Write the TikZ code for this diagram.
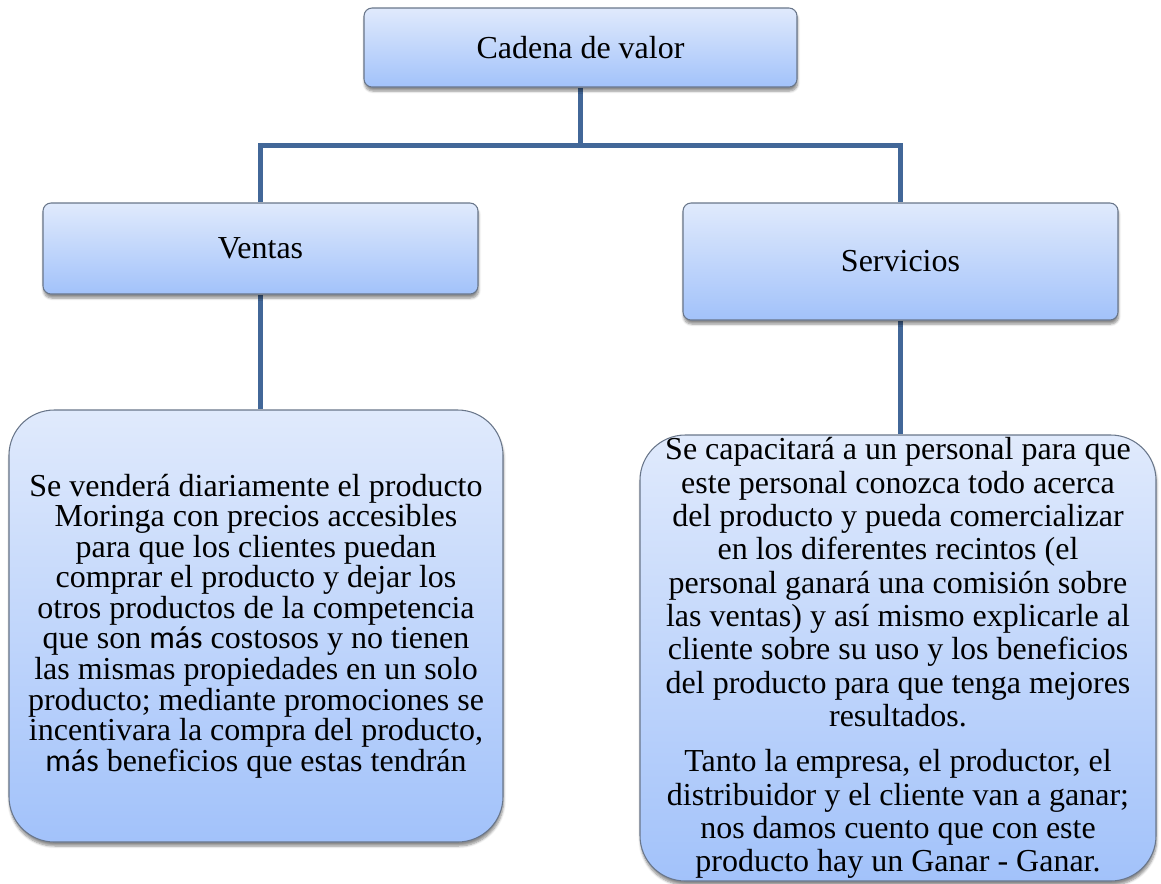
\documentclass[tikz,border=0pt]{standalone}
\usepackage{fontspec}
\setmainfont{Liberation Serif}
\newfontfamily\carlito{Carlito}
\usetikzlibrary{shadows.blur,backgrounds}
\definecolor{linkblue}{RGB}{66,103,152}
\definecolor{boxtop}{RGB}{224,234,252}
\definecolor{boxbot}{RGB}{162,194,250}
\definecolor{boxedge}{RGB}{105,118,138}
\tikzset{
  box/.style={draw=boxedge, line width=0.8pt, top color=boxtop, bottom color=boxbot,
    blur shadow={shadow xshift=0.5pt, shadow yshift=-3pt, shadow opacity=45, shadow blur steps=6},
    inner sep=0pt, align=center},
  headbox/.style={box, rounded corners=6pt, font=\fontsize{24}{26}\selectfont},
  textbox/.style={box, rounded corners=34pt},
  link/.style={draw=linkblue, line width=3.75pt}
}
\begin{document}
\begin{tikzpicture}[x=0.75pt,y=-0.75pt]
\useasboundingbox (0,0) rectangle (1161,883);
\node[headbox, minimum width={433*0.75pt}, minimum height={79*0.75pt}] (top) at (580.5,47.5) {Cadena de valor};
\node[headbox, minimum width={435*0.75pt}, minimum height={91*0.75pt}] (ventas) at (260.5,248.5) {Ventas};
\node[headbox, minimum width={435*0.75pt}, minimum height={117*0.75pt}] (serv) at (900.5,261.5) {Servicios};
\node[textbox, minimum width={494*0.75pt}, minimum height={432*0.75pt}, font=\fontsize{24}{22.9}\selectfont] (ltext) at (256,626)
 {Se venderá diariamente el producto\\Moringa con precios accesibles\\para que los clientes puedan\\comprar el producto y dejar los\\otros productos de la competencia\\que son {\carlito más} costosos y no tienen\\las mismas propiedades en un solo\\producto; mediante promociones se\\incentivara la compra del producto,\\{\carlito más} beneficios que estas tendrán};
\node[textbox, minimum width={516*0.75pt}, minimum height={446*0.75pt}, font=\fontsize{24}{25}\selectfont] (rtext) at (898,658)
 {Se capacitará a un personal para que\\este personal conozca todo acerca\\del producto y pueda comercializar\\en los diferentes recintos (el\\personal ganará una comisión sobre\\las ventas) y así mismo explicarle al\\cliente sobre su uso y los beneficios\\del producto para que tenga mejores\\resultados.\\[9pt]Tanto la empresa, el productor, el\\distribuidor y el cliente van a ganar;\\nos damos cuento que con este\\producto hay un Ganar - Ganar.};
\coordinate (j) at (580.5,145);
\begin{scope}[on background layer]
\draw[link] (top.south) -- (j) -| (ventas.north);
\draw[link] (j) -| (serv.north);
\draw[link] (ventas.south) -- (ltext.north -| ventas.south);
\draw[link] (serv.south) -- (rtext.north -| serv.south);
\end{scope}
\end{tikzpicture}
\end{document}
